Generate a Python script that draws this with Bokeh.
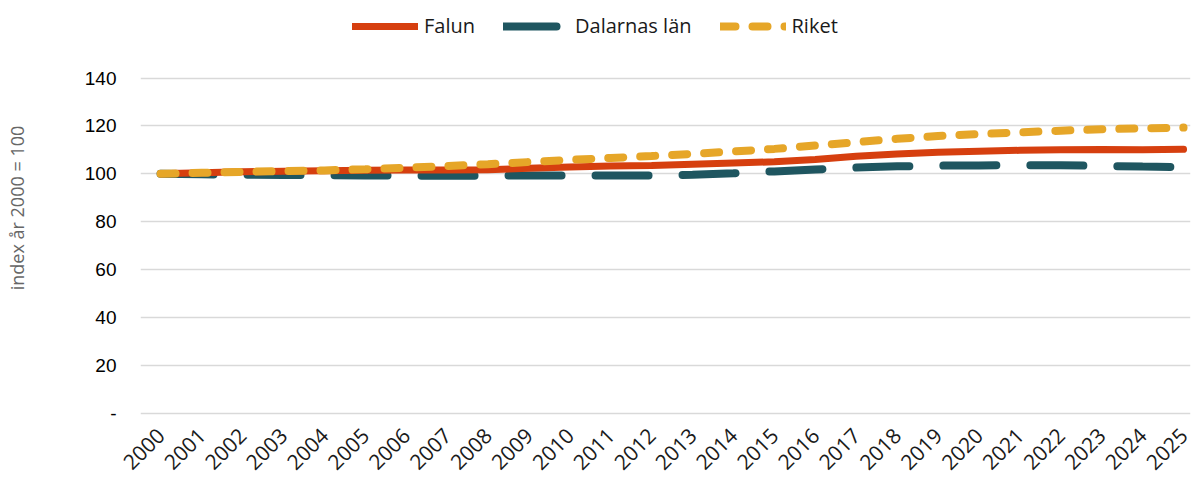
from bokeh.plotting import figure
from bokeh.models import Legend, LegendItem, Range1d, FixedTicker, ColumnDataSource
from bokeh.embed import file_html
from bokeh.resources import INLINE
import math

years = list(range(2000, 2026))
falun = [100, 100.4, 100.8, 101.1, 101.3, 101.5, 101.6, 101.6, 101.7, 102.3, 102.8, 103.2, 103.5,
         104.0, 104.5, 105.0, 106.0, 107.3, 108.3, 109.0, 109.4, 109.8, 110.0, 110.1, 110.0, 110.2]
dalarna = [100, 99.8, 99.6, 99.5, 99.4, 99.3, 99.2, 99.2, 99.2, 99.3, 99.3, 99.3, 99.3,
           99.6, 100.2, 101.0, 101.8, 102.6, 103.1, 103.4, 103.5, 103.6, 103.6, 103.3, 103.0, 102.8]
riket = [100, 100.4, 100.8, 101.1, 101.4, 101.9, 102.5, 103.2, 104.0, 104.9, 105.8, 106.6, 107.4,
         108.3, 109.3, 110.4, 111.8, 113.2, 114.6, 115.8, 116.6, 117.3, 118.0, 118.6, 119.0, 119.3]
y_ticks = [0, 20, 40, 60, 80, 100, 120, 140]
series_names = ["Falun", "Dalarnas län", "Riket"]

src = ColumnDataSource(dict(x=years, falun=falun, dalarna=dalarna, riket=riket))

W, H = 1192, 484
p = figure(width=W, height=H, output_backend="svg", toolbar_location=None,
           x_range=Range1d(1999.51, 2025.17), y_range=Range1d(-1, 172.4),
           min_border_left=140, min_border_right=2, min_border_top=0, min_border_bottom=69)
p.outline_line_color = None
p.background_fill_color = "white"

# axes
p.yaxis.ticker = FixedTicker(ticks=y_ticks)
p.yaxis.major_label_overrides = {0: "-"}
p.yaxis.axis_line_color = None
p.yaxis.major_tick_line_color = None
p.yaxis.minor_tick_line_color = None
p.yaxis.major_label_text_font = "Liberation Sans"
p.yaxis.major_label_text_font_size = "19px"
p.yaxis.major_label_text_color = "#000000"
p.yaxis.major_label_standoff = 18
p.yaxis.axis_label = "index år 2000 = 100"
p.yaxis.axis_label_text_font = "Open Sans"
p.yaxis.axis_label_text_font_style = "normal"
p.yaxis.axis_label_text_font_size = "18px"
p.yaxis.axis_label_text_color = "#666666"
p.yaxis.axis_label_standoff = 53

p.xaxis.ticker = FixedTicker(ticks=years)
p.xaxis.axis_line_color = None
p.xaxis.major_tick_line_color = None
p.xaxis.minor_tick_line_color = None
p.xaxis.major_label_orientation = math.pi / 4
p.xaxis.major_label_text_font = "Open Sans"
p.xaxis.major_label_text_font_size = "21px"
p.xaxis.major_label_text_color = "#1a1a1a"
p.xaxis.major_label_standoff = 10

p.xgrid.grid_line_color = None
p.ygrid.ticker = FixedTicker(ticks=y_ticks)
p.ygrid.grid_line_color = "#d9d9d9"
p.ygrid.grid_line_width = 1.5

r_d = p.line("x", "dalarna", source=src, line_color="#1F5660", line_width=8,
             line_dash="53 34", line_cap="round")
r_f = p.line("x", "falun", source=src, line_color="#D63F0F", line_width=7, line_cap="round")
r_r = p.line("x", "riket", source=src, line_color="#E6A628", line_width=8,
             line_dash="15 17", line_cap="round")

legend = Legend(items=[LegendItem(label=series_names[0], renderers=[r_f]),
                       LegendItem(label=series_names[1], renderers=[r_d]),
                       LegendItem(label=series_names[2], renderers=[r_r])],
                orientation="horizontal", location=(212, 376),
                label_text_font="Open Sans", label_text_font_size="20px", label_text_color="#1a1a1a",
                glyph_width=66, glyph_height=22, label_standoff=6, spacing=28,
                border_line_color=None, background_fill_alpha=0, padding=0, margin=0)
p.add_layout(legend, "center")

open("out.html", "w").write(file_html(p, INLINE))
